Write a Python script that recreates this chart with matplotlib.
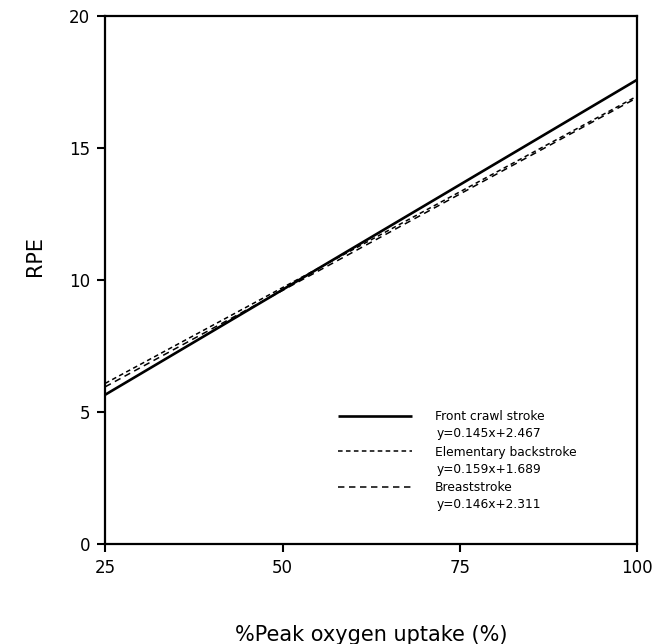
import numpy as np
import matplotlib
matplotlib.use("Agg")
import matplotlib.pyplot as plt

# end points of the fitted lines
x_ends = [25, 100]
crawl_y = [5.66, 17.59]
back_y = [6.09, 16.97]
breast_y = [5.96, 16.91]

names = ["Front crawl stroke", "Elementary backstroke", "Breaststroke"]
equations = ["y=0.145x+2.467", "y=0.159x+1.689", "y=0.146x+2.311"]

x_ticks = [25, 50, 75, 100]
y_ticks = [0, 5, 10, 15, 20]

fig = plt.figure(figsize=(6.7, 6.44), dpi=100)
ax = fig.add_axes([0.157, 0.155, 0.794, 0.82])

l1, = ax.plot(x_ends, crawl_y, color="black", lw=1.9, solid_capstyle="butt")
l2, = ax.plot(x_ends, back_y, color="black", lw=1.1, dashes=(3, 2.2))
l3, = ax.plot(x_ends, breast_y, color="black", lw=1.1, dashes=(4.2, 3.0))

ax.set_xlim(25, 100)
ax.set_ylim(0, 20)
ax.set_xticks(x_ticks)
ax.set_yticks(y_ticks)
ax.tick_params(direction="out", length=6, width=1.5, labelsize=12, pad=5)
for s in ax.spines.values():
    s.set_linewidth(1.6)

ax.set_xlabel("%Peak oxygen uptake (%)", fontsize=15)
ax.set_ylabel("RPE", fontsize=15)
ax.xaxis.set_label_coords(0.5, -0.153)
ax.yaxis.set_label_coords(-0.113, 0.545)

leg = ax.legend([l1, l2, l3], names, loc="upper left", bbox_to_anchor=(0.438, 0.254),
                frameon=False, fontsize=8.8, handlelength=6.0, handletextpad=1.9,
                labelspacing=1.85, borderpad=0, borderaxespad=0)

# equations sit under each legend name
fig.canvas.draw()
for t, eq in zip(leg.get_texts(), equations):
    bb = t.get_window_extent()
    fig.text(bb.x0 + 2, bb.y0 - 4, eq, fontsize=8.8, va="top", ha="left",
             transform=None)

fig.savefig("out.png", dpi=100)
